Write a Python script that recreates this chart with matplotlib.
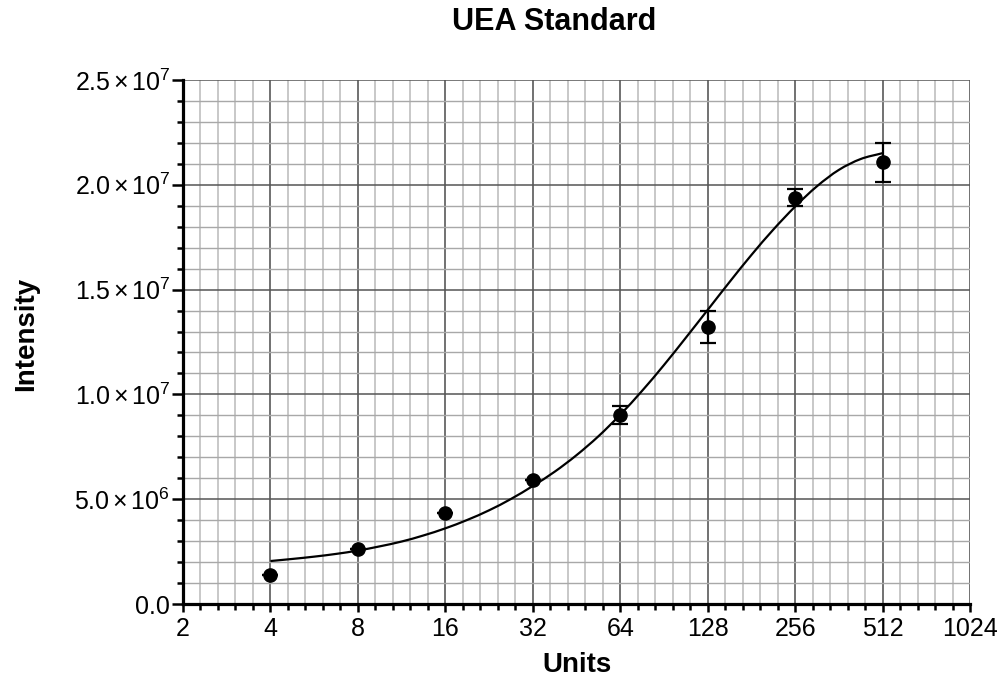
import matplotlib
matplotlib.use("Agg")
import matplotlib.pyplot as plt
from matplotlib.ticker import FixedLocator, FuncFormatter, NullFormatter, MultipleLocator
from matplotlib.path import Path
from matplotlib.patches import PathPatch
import numpy as np

plt.rcParams['font.family'] = ['Liberation Sans', 'DejaVu Sans']
plt.rcParams['mathtext.fontset'] = 'custom'
plt.rcParams['mathtext.rm'] = 'Liberation Sans'
plt.rcParams['mathtext.it'] = 'Liberation Sans:italic'
plt.rcParams['mathtext.bf'] = 'Liberation Sans:bold'

# ---- data ----
title = "UEA Standard"
x_label = "Units"
y_label = "Intensity"

units = [4, 8, 16, 32, 64, 128, 256, 512]
intensity = [1.40e6, 2.61e6, 4.33e6, 5.92e6, 9.02e6, 13.23e6, 19.39e6, 21.07e6]
intensity_err = [0, 0, 0, 0, 0.41e6, 0.76e6, 0.41e6, 0.92e6]

# fitted curve
curve_units = [4, 4.76, 5.66, 6.73, 8, 9.51, 11.31, 13.45, 16, 19.03, 22.63, 26.91,
               32, 38.05, 45.25, 53.82, 64, 76.11, 90.51, 107.6, 128, 152.2, 181.0,
               215.3, 256, 304.4, 362.0, 430.5, 512]
curve_intensity = [2.05e6, 2.15e6, 2.26e6, 2.39e6, 2.55e6, 2.75e6, 2.98e6, 3.27e6,
                   3.61e6, 4.01e6, 4.47e6, 5.01e6, 5.63e6, 6.31e6, 7.10e6, 8.00e6,
                   9.03e6, 10.17e6, 11.40e6, 12.70e6, 14.03e6, 15.36e6, 16.65e6,
                   17.86e6, 18.96e6, 19.93e6, 20.71e6, 21.23e6, 21.51e6]

x_ticks = [2, 4, 8, 16, 32, 64, 128, 256, 512, 1024]
y_ticks = [0, 5e6, 1e7, 1.5e7, 2e7, 2.5e7]

# ---- figure ----
fig = plt.figure(figsize=(10.05, 6.86), dpi=100)
ax = fig.add_axes([183/1005, 1 - 604/686, (970-183)/1005, (604-80)/686])

ax.set_xscale('log', base=2)
ax.set_xlim(2, 1024)
ax.set_ylim(0, 2.5e7)

ax.xaxis.set_major_locator(FixedLocator(x_ticks))
ax.xaxis.set_major_formatter(FuncFormatter(lambda v, p: "%d" % round(v)))
minor_x = [2 ** (e + f) for e in range(1, 10) for f in (0.2, 0.4, 0.6, 0.8)]
ax.xaxis.set_minor_locator(FixedLocator(minor_x))
ax.xaxis.set_minor_formatter(NullFormatter())

ax.yaxis.set_major_locator(FixedLocator(y_ticks))
ax.yaxis.set_minor_locator(MultipleLocator(1e6))


def yfmt(v, p):
    if v == 0:
        return "0.0"
    exp = int(np.floor(np.log10(v)))
    mant = v / 10 ** exp
    return r"$\mathregular{%.1f\,{\times}\,10^{%d}}$" % (mant, exp)


ax.yaxis.set_major_formatter(FuncFormatter(yfmt))

# grid
ax.set_axisbelow(True)
ax.xaxis.grid(True, which='minor', color='#c4c4c4', linewidth=1.3)
ax.yaxis.grid(True, which='minor', color='#a8a8a8', linewidth=1.0)
ax.xaxis.grid(True, which='major', color='#666666', linewidth=1.3)
ax.yaxis.grid(True, which='major', color='#555555', linewidth=1.1)

for s in ('top', 'right'):
    ax.spines[s].set_visible(False)
for s in ('left', 'bottom'):
    ax.spines[s].set_linewidth(2.3)
    ax.spines[s].set_color('black')

ax.tick_params(axis='both', which='major', labelsize=18, width=1.8, color='black')
ax.tick_params(axis='y', which='major', length=8, pad=1.5)
ax.tick_params(axis='y', which='minor', length=4.5, width=1.8)
ax.tick_params(axis='x', which='major', length=6, pad=3)
ax.tick_params(axis='x', which='minor', length=4.5, width=1.8)


# curve through the read points, drawn as a smooth (Catmull-Rom) line in log-x space
def smooth_line_path(xs, ys):
    u = np.log2(np.asarray(xs, float))
    v = np.asarray(ys, float)
    n = len(u)
    mu = np.empty(n)
    mv = np.empty(n)
    mu[1:-1] = (u[2:] - u[:-2]) / 2
    mv[1:-1] = (v[2:] - v[:-2]) / 2
    mu[0], mv[0] = u[1] - u[0], v[1] - v[0]
    mu[-1], mv[-1] = u[-1] - u[-2], v[-1] - v[-2]
    verts = [(xs[0], ys[0])]
    codes = [Path.MOVETO]
    for i in range(n - 1):
        c1 = (2 ** (u[i] + mu[i] / 3), v[i] + mv[i] / 3)
        c2 = (2 ** (u[i + 1] - mu[i + 1] / 3), v[i + 1] - mv[i + 1] / 3)
        verts += [c1, c2, (xs[i + 1], ys[i + 1])]
        codes += [Path.CURVE4] * 3
    return Path(verts, codes)


ax.add_patch(PathPatch(smooth_line_path(curve_units, curve_intensity),
                       fill=False, edgecolor='black', linewidth=1.6, zorder=3))
ax.errorbar(units, intensity, yerr=intensity_err, fmt='o', color='black',
            markersize=9.5, elinewidth=1.6, capsize=5.5, capthick=1.6, zorder=4)

# labels
fig.text(554/1005, 1 - 22/686, title, ha='center', va='center',
         fontsize=22, fontweight='bold')
fig.text(577/1005, 1 - 665/686, x_label, ha='center', va='center',
         fontsize=20, fontweight='bold')
fig.text(26/1005, 1 - 334/686, y_label, ha='center', va='center',
         rotation=90, fontsize=20, fontweight='bold')

fig.savefig("out.png", dpi=100)
